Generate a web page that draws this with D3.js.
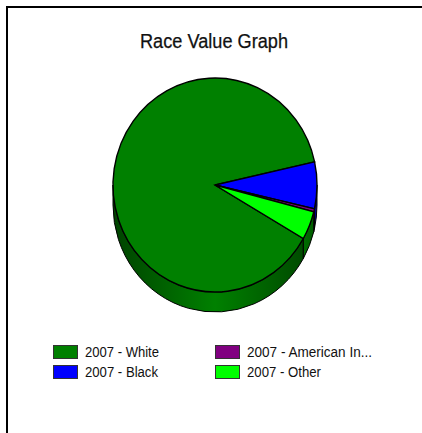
<!DOCTYPE html>
<html>
<head>
<meta charset="utf-8">
<script src="https://d3js.org/d3.v7.min.js"></script>
<style>
  html, body { margin: 0; padding: 0; background: #fff; overflow: hidden; }
  text { font-family: "Liberation Sans", Arial, sans-serif; fill: #111; }
  .slice { vector-effect: non-scaling-stroke; }
</style>
</head>
<body>
<svg id="chart" width="422" height="433"></svg>
<script>
const title = "Race Value Graph";
const categories = ["White", "Black", "American Indian", "Other"];
const legendLabels = ["2007 - White", "2007 - Black", "2007 - American In...", "2007 - Other"];
const legendLengths = [74, 73, 125, 74];
const values = [88.2, 7.05, 0.45, 4.3];
const colors = ["#008000", "#0000ff", "#800080", "#00ff00"];
const wallDarkness = [1.8, 1.8, 1.8, 3];

const width = 422;
const height = 433;
const cx = 215;
const cy = 185;
const rx = 102;
const ry = 107;
const depth = 20;
const firstAngle = 120 * Math.PI / 180; // White starts at lower right

const svg = d3.select("#chart");

// frame: only top and left edges show in the picture
svg.append("path")
  .attr("d", `M7,${height} V7 H${width}`)
  .attr("fill", "none")
  .attr("stroke", "#000")
  .attr("stroke-width", 2);

svg.append("text")
  .attr("x", 214)
  .attr("y", 48)
  .attr("text-anchor", "middle")
  .attr("font-size", 20)
  .attr("textLength", 148)
  .attr("lengthAdjust", "spacingAndGlyphs")
  .attr("stroke", "#111")
  .attr("stroke-width", 0.25)
  .text(title);

const pie = d3.pie().sort(null)
  .startAngle(firstAngle)
  .endAngle(firstAngle + 2 * Math.PI);
const slices = pie(values);

// side wall shading, dark at both ends of the rim and full colour in front
const defs = svg.append("defs");
colors.forEach((c, i) => {
  const g = defs.append("linearGradient")
    .attr("id", `wall${i}`)
    .attr("gradientUnits", "userSpaceOnUse")
    .attr("x1", cx - rx).attr("x2", cx + rx)
    .attr("y1", 0).attr("y2", 0);
  const dark = d3.rgb(c).darker(wallDarkness[i]);
  g.append("stop").attr("offset", 0).attr("stop-color", dark);
  g.append("stop").attr("offset", 0.5).attr("stop-color", c);
  g.append("stop").attr("offset", 1).attr("stop-color", dark);
});

// d3 pie angles run clockwise from north, so the front rim is PI/2..3PI/2
const rimX = a => cx + rx * Math.sin(a);
const rimY = a => cy - ry * Math.cos(a);

function wallPath(d) {
  // slices after White have gone past a full turn, bring them back
  const turn = d.startAngle >= 2 * Math.PI ? 2 * Math.PI : 0;
  const a0 = Math.max(d.startAngle - turn, Math.PI / 2);
  const a1 = Math.min(d.endAngle - turn, 3 * Math.PI / 2);
  if (a1 <= a0) return null;
  return `M${rimX(a0)},${rimY(a0)}` +
    `A${rx},${ry} 0 0 1 ${rimX(a1)},${rimY(a1)}` +
    `V${rimY(a1) + depth}` +
    `A${rx},${ry} 0 0 0 ${rimX(a0)},${rimY(a0) + depth}Z`;
}

svg.append("g").selectAll("path")
  .data(slices)
  .join("path")
  .attr("d", wallPath)
  .attr("fill", (d, i) => `url(#wall${i})`)
  .attr("stroke", "#000")
  .attr("stroke-width", 1);

const arc = d3.arc().innerRadius(0).outerRadius(rx);

svg.append("g")
  .attr("transform", `translate(${cx},${cy}) scale(1,${ry / rx})`)
  .selectAll("path")
  .data(slices)
  .join("path")
  .attr("class", "slice")
  .attr("d", arc)
  .attr("fill", (d, i) => colors[i])
  .attr("stroke", "#000")
  .attr("stroke-width", 1.4);

// legend, filled column by column
const colX = d3.scaleOrdinal().domain([0, 1]).range([53, 215]);
const rowY = d3.scaleOrdinal().domain([0, 1]).range([345, 365]);

const legend = svg.append("g").selectAll("g")
  .data(categories)
  .join("g")
  .attr("transform", (d, i) => `translate(${colX(Math.floor(i / 2))},${rowY(i % 2)})`);

legend.append("rect")
  .attr("x", 0.5).attr("y", 0.5)
  .attr("width", 24).attr("height", 13)
  .attr("fill", (d, i) => colors[i])
  .attr("stroke", "#333");

legend.append("text")
  .attr("x", 32)
  .attr("y", 12)
  .attr("font-size", 14)
  .attr("textLength", (d, i) => legendLengths[i])
  .attr("lengthAdjust", "spacingAndGlyphs")
  .text((d, i) => legendLabels[i]);
</script>
</body>
</html>
